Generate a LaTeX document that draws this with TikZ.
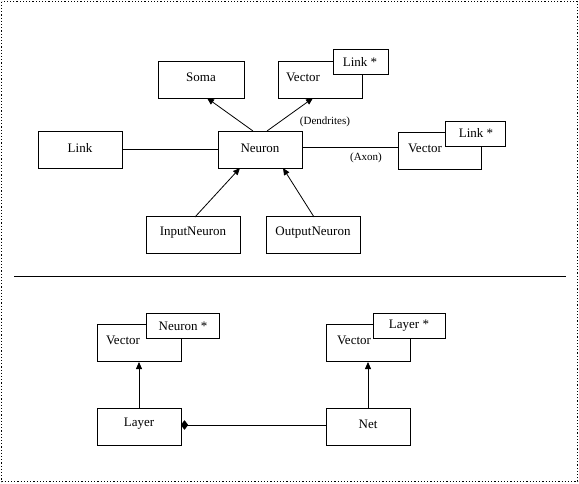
\documentclass[tikz,border=0pt]{standalone}
\usepackage{fontspec}
\setmainfont{Liberation Serif}
\usetikzlibrary{arrows.meta,shapes.geometric}
\tikzset{
  box/.style={draw, line width=1pt, fill=white, minimum width=84pt, minimum height=37pt, inner sep=0pt},
  tag/.style={draw, line width=1pt, fill=white, minimum height=25pt, inner sep=0pt},
  lbl/.style={inner sep=0pt, font=\fontsize{13}{15}\selectfont},
  small/.style={inner sep=0pt, font=\fontsize{11}{13}\selectfont},
  arr/.style={line width=0.8pt, -{Triangle[width=6pt,length=7pt]}},
  conn/.style={line width=0.8pt}
}
\begin{document}
\begin{tikzpicture}[x=1pt,y=-1pt]
\useasboundingbox (0,0) rectangle (579,483);
\draw[dotted, line width=1.2pt] (1.5,1.5) rectangle (577.5,481.5);

% upper part
\node[box, minimum width=86pt] (soma) at (201,79.5) {};
\node[lbl] (somat) at (201,77) {Soma};

\node[box] (vecd) at (320,79.5) {};
\node[lbl] (vecdt) at (303,77) {Vector};
\node[tag, minimum width=55pt] (linkd) at (360.5,61.5) {};
\node[lbl] (linkdt) at (360,62) {Link *};

\node[box] (link) at (80,149.5) {};
\node[lbl] (linkt) at (80,148) {Link};

\node[box] (neuron) at (260,149.5) {};
\node[lbl] (neuront) at (260,148) {Neuron};

\node[box, minimum width=83pt] (veca) at (439.5,151) {};
\node[lbl] (vecat) at (425,148) {Vector};
\node[tag, minimum width=60pt] (linka) at (475,133.5) {};
\node[lbl] (linkat) at (476,133) {Link *};

\node[small] (dend) at (325,122) {(Dendrites)};
\node[small] (axon) at (366,158) {(Axon)};

\node[box, minimum width=94pt] (inp) at (193,235) {};
\node[lbl] (inpt) at (193,233) {InputNeuron};
\node[box, minimum width=94pt] (outp) at (313,235) {};
\node[lbl] (outpt) at (313,233) {OutputNeuron};

\coordinate (nt1) at (253,131);
\coordinate (nt2) at (267,131);
\coordinate (nb1) at (240,168);
\coordinate (nb2) at (283,168);
\coordinate (sb) at (207,98);
\coordinate (vb) at (313,98);
\coordinate (it) at (195,217);
\coordinate (ot) at (314,217);

\draw[conn] (link.east) -- (neuron.west);
\draw[conn] (neuron.east |- 0,147) -- (veca.west |- 0,147);
\draw[arr] (nt1) -- (sb);
\draw[arr] (nt2) -- (vb);
\draw[arr] (it) -- (nb1);
\draw[arr] (ot) -- (nb2);

% separator
\coordinate (sepl) at (14,276.5);
\coordinate (sepr) at (566,276.5);
\draw[line width=1pt] (sepl) -- (sepr);

% lower part
\node[box] (vecn) at (139,343) {};
\node[lbl] (vecnt) at (123,340) {Vector};
\node[tag, minimum width=73pt] (neuronst) at (182.5,325.5) {};
\node[lbl] (neuronstt) at (183,326) {Neuron *};

\node[box] (vecl) at (368,343) {};
\node[lbl] (veclt) at (354,340) {Vector};
\node[tag, minimum width=72pt] (layerst) at (409,325.5) {};
\node[lbl] (layerstt) at (409,326) {Layer *};

\node[box] (layer) at (139,427) {};
\node[lbl] (layert) at (139,424) {Layer};
\node[box] (net) at (368,427) {};
\node[lbl] (nett) at (368,424) {Net};

\draw[arr] (layer.north) -- (vecn.south);
\draw[arr] (net.north) -- (vecl.south);
\draw[conn] (net.west |- 0,425) -- (layer.east |- 0,425);
\node[diamond, fill=black, draw=black, inner sep=0pt, minimum width=7pt, minimum height=9pt] (dia) at (184.5,425) {};
\end{tikzpicture}
\end{document}
